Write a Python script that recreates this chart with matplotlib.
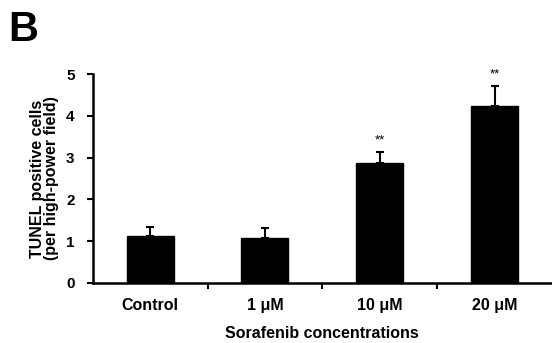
import matplotlib
matplotlib.use("Agg")
import matplotlib.pyplot as plt

plt.rcParams['font.family'] = ['Liberation Sans', 'DejaVu Sans']
plt.rcParams['font.weight'] = 'bold'

# data
groups = ["Control", "1 \u03bcM", "10 \u03bcM", "20 \u03bcM"]
means = [1.13, 1.08, 2.88, 4.24]
errs = [0.22, 0.24, 0.26, 0.48]
stars = ["", "", "**", "**"]

fig = plt.figure(figsize=(5.52, 3.43), dpi=100)
ax = fig.add_axes([0.168, 0.175, 0.832, 0.609])

pos = [i + 0.5 for i in range(len(groups))]
ax.bar(pos, means, width=0.41, color="black", edgecolor="black", zorder=2)
ax.errorbar(pos, means, yerr=[[0] * len(errs), errs], fmt="none",
            ecolor="black", elinewidth=1.5, capsize=3, capthick=1.5, zorder=3)
for p, m, e, s in zip(pos, means, errs, stars):
    if s:
        ax.text(p, m + e + 0.12, s, ha="center", va="bottom", fontsize=9.5, fontweight="normal")

ax.set_xlim(0, 4)
ax.set_ylim(0, 5)
ax.set_yticks(range(6))
ax.set_xticks([1, 2, 3])
ax.set_xticklabels([])
ax.set_xticks(pos, minor=True)
ax.set_xticklabels(groups, minor=True)
ax.tick_params(axis="x", which="minor", length=0, pad=11, labelsize=11.5)
ax.tick_params(axis="x", which="major", length=4, width=1.5, direction="out")
ax.tick_params(axis="y", length=4, width=1.5, direction="out", labelsize=11, pad=9)

for side in ["top", "right"]:
    ax.spines[side].set_visible(False)
for side in ["left", "bottom"]:
    ax.spines[side].set_linewidth(1.8)

ax.set_ylabel("TUNEL positive cells\n(per high-power field)", fontsize=11.5, fontweight="bold",
              labelpad=5, linespacing=0.9)
ax.set_xlabel("Sorafenib concentrations", fontsize=11.5, fontweight="bold", labelpad=9)

fig.text(0.015, 0.97, "B", fontsize=30, fontweight="bold", ha="left", va="top")

fig.savefig("out.png", dpi=100)
